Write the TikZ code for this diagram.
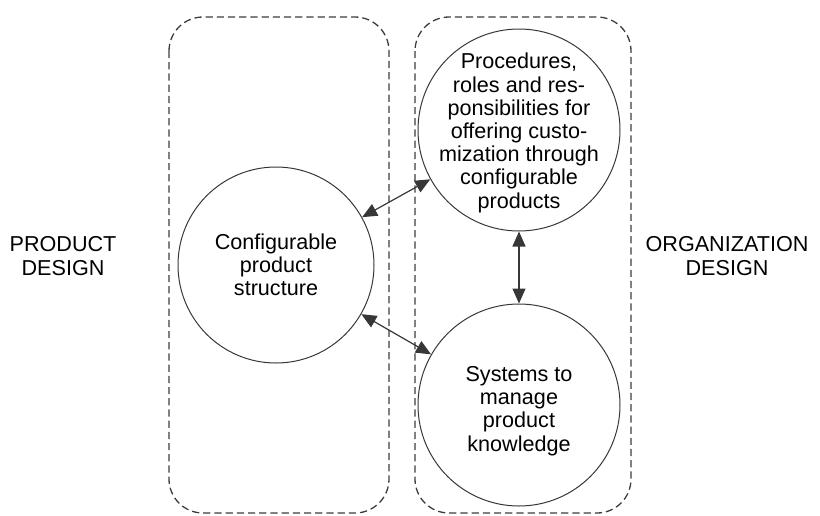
\documentclass[tikz,border=0pt]{standalone}
\usepackage{fontspec}
\setmainfont{Liberation Sans}
\usepackage{xcolor}
\usetikzlibrary{arrows.meta}
\definecolor{GrisLinea}{RGB}{55,55,55}
\definecolor{GrisMarco}{RGB}{60,60,60}

\begin{document}
\begin{tikzpicture}[x=0.5pt,y=-0.5pt,>={Triangle[length=7.5pt,width=6.5pt]},
  marco/.style={draw=GrisMarco,dash pattern=on 3.6pt off 2pt,rounded corners=17pt,line width=0.65pt},
  circulo/.style={circle,draw=GrisLinea,line width=0.5pt,minimum size=101pt,inner sep=0pt},
  texto/.style={align=center,font=\fontsize{10.8}{11.6}\selectfont},
  etiqueta/.style={align=center,font=\fontsize{10.8}{12.4}\selectfont},
  flecha/.style={<->,GrisLinea,line width=0.6pt}]
  \useasboundingbox (0,0) rectangle (820,515);

  \draw[marco] (169,17) rectangle (389,513);
  \draw[marco] (415,17) rectangle (631,513);

  \node[etiqueta] (prod) at (63,256) {PRODUCT\\DESIGN};
  \node[etiqueta] (org) at (727,256) {ORGANIZATION\\DESIGN};

  \node[circulo,minimum size=98pt] (estructura) at (276,265) {};
  \node[texto] (testructura) at (estructura)
       {Configurable\\product\\structure};
  \node[circulo] (procesos) at (519,130) {};
  \node[texto] (tprocesos) at ([yshift=-1.5pt]procesos.center)
       {Procedures,\\roles and res-\\ponsibilities for\\offering custo-\\mization through\\configurable\\products};
  \node[circulo] (sistemas) at (519,405) {};
  \node[texto] (tsistemas) at ([yshift=-3pt]sistemas.center)
       {Systems to\\manage\\product\\knowledge};

  \draw[flecha] (estructura) -- (procesos);
  \draw[flecha] (estructura) -- (sistemas);
  \draw[flecha] (procesos) -- (sistemas);
\end{tikzpicture}
\end{document}
